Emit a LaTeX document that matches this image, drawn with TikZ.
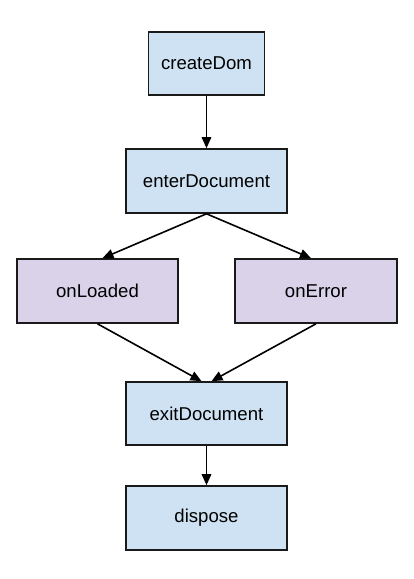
\documentclass[tikz,border=0pt]{standalone}
\usepackage{fontspec}
\setmainfont{Liberation Sans}
\usetikzlibrary{arrows.meta,calc}
\definecolor{boxblue}{HTML}{CFE2F3}
\definecolor{boxpurple}{HTML}{D9D2E9}
\definecolor{edge}{HTML}{1A1A1A}
\begin{document}
\begin{tikzpicture}[x=1pt,y=-1pt,
  stage/.style={draw=edge,line width=1.6pt,rectangle,inner sep=0pt,
    minimum height=63pt,font=\fontsize{18.6}{22}\selectfont},
  bluebox/.style={stage,fill=boxblue},
  purplebox/.style={stage,fill=boxpurple},
  conn/.style={draw=black,line width=1.6pt,-{Triangle[length=11pt,width=9.5pt]}}]
\useasboundingbox (0,0) rectangle (413,579);
\node[bluebox,minimum width=116pt] (create) at (206.5,63.5) {createDom};
\node[bluebox,minimum width=161pt,minimum height=64pt] (enter) at (206.5,181) {enterDocument};
\node[purplebox,minimum width=161pt,minimum height=64pt] (loaded) at (97.5,291) {onLoaded};
\node[purplebox,minimum width=162pt,minimum height=64pt] (error) at (316,291) {onError};
\node[bluebox,minimum width=161pt] (exit) at (206.5,413.5) {exitDocument};
\node[bluebox,minimum width=161pt,minimum height=64pt] (dispose) at (206.5,518) {dispose};
\draw[conn] (create.south) -- (enter.north);
\draw[conn] (enter.south) -- ($(loaded.north)+(5,0)$);
\draw[conn] (enter.south) -- ($(error.north)+(-5,0)$);
\draw[conn] (loaded.south) -- ($(exit.north)+(-5,0)$);
\draw[conn] (error.south) -- ($(exit.north)+(5,0)$);
\draw[conn] (exit.south) -- (dispose.north);
\end{tikzpicture}
\end{document}
